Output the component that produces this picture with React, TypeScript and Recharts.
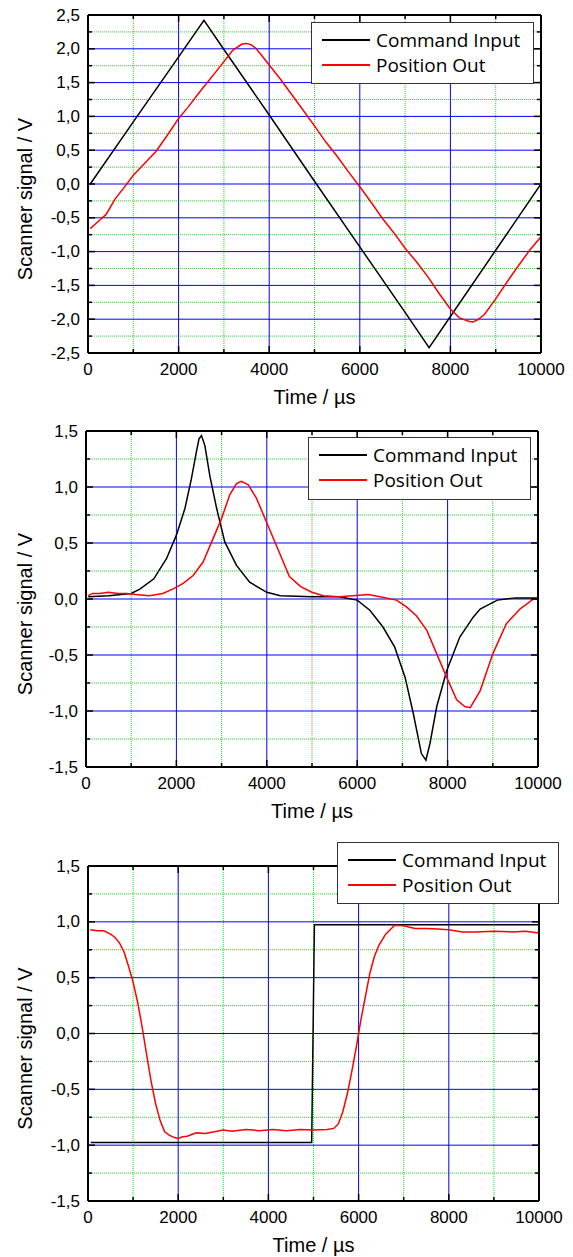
import React from 'react';
import { LineChart, Line, XAxis, YAxis, CartesianGrid, Legend } from 'recharts';

// time axis (µs)
const timeTicks = [0, 1000, 2000, 3000, 4000, 5000, 6000, 7000, 8000, 9000, 10000];
const timeMajor = [2000, 4000, 6000, 8000];
const timeMinor = [1000, 3000, 5000, 7000, 9000];

// voltage axes
const ticks25 = [-2.5, -2.25, -2, -1.75, -1.5, -1.25, -1, -0.75, -0.5, -0.25, 0, 0.25, 0.5, 0.75, 1, 1.25, 1.5, 1.75, 2, 2.25, 2.5];
const major25 = [-2, -1.5, -1, -0.5, 0, 0.5, 1, 1.5, 2];
const minor25 = [-2.25, -1.75, -1.25, -0.75, -0.25, 0.25, 0.75, 1.25, 1.75, 2.25];
const ticks15 = [-1.5, -1.25, -1, -0.75, -0.5, -0.25, 0, 0.25, 0.5, 0.75, 1, 1.25, 1.5];
const major15 = [-1, -0.5, 0, 0.5, 1];
const minor15 = [-1.25, -0.75, -0.25, 0.25, 0.75, 1.25];

// chart 1 - triangle
const cmd1T = [50, 1000, 2000, 2560, 3000, 4000, 5000, 6000, 7000, 7530, 8000, 9000, 10000];
const cmd1V = [0, 0.92, 1.88, 2.42, 1.99, 1.02, 0.04, -0.93, -1.9, -2.42, -1.96, -0.98, 0];
const pos1T = [50, 150, 250, 400, 600, 800, 1000, 1200, 1500, 1800, 2000, 2200, 2500, 2800, 3000, 3200, 3400, 3500, 3600, 3700, 3800, 4000, 4250, 4500, 4750, 5000, 5250, 5500, 5750, 6000, 6250, 6500, 6750, 7000, 7250, 7500, 7750, 8000, 8200, 8400, 8500, 8600, 8750, 9000, 9250, 9500, 9750, 10000];
const pos1V = [-0.66, -0.6, -0.54, -0.45, -0.22, -0.05, 0.13, 0.27, 0.48, 0.77, 0.97, 1.13, 1.39, 1.64, 1.81, 1.98, 2.07, 2.08, 2.06, 2.01, 1.93, 1.76, 1.55, 1.32, 1.09, 0.86, 0.62, 0.41, 0.18, -0.04, -0.27, -0.51, -0.72, -0.95, -1.15, -1.37, -1.62, -1.85, -1.98, -2.03, -2.04, -2.01, -1.93, -1.7, -1.45, -1.21, -0.98, -0.78];

// chart 2 - peaks
const cmd2T = [50, 500, 1000, 1200, 1500, 1780, 2000, 2190, 2330, 2440, 2500, 2555, 2630, 2740, 2890, 3070, 3330, 3620, 4000, 4300, 5000, 5600, 6000, 6280, 6570, 6830, 7060, 7240, 7420, 7520, 7610, 7760, 7980, 8270, 8570, 8720, 9100, 9500, 10000];
const cmd2V = [0.02, 0.03, 0.05, 0.09, 0.18, 0.36, 0.57, 0.81, 1.07, 1.31, 1.43, 1.46, 1.37, 1.1, 0.81, 0.51, 0.3, 0.15, 0.06, 0.03, 0.02, 0.02, -0.01, -0.1, -0.25, -0.43, -0.7, -1.02, -1.38, -1.44, -1.29, -0.96, -0.64, -0.34, -0.16, -0.09, -0.01, 0.01, 0.01];
const pos2T = [50, 150, 300, 500, 700, 900, 1100, 1400, 1700, 1930, 2150, 2370, 2590, 2780, 3000, 3180, 3330, 3440, 3590, 3770, 3990, 4210, 4500, 4750, 5000, 5250, 5600, 5900, 6250, 6500, 6870, 7090, 7310, 7540, 7760, 7980, 8200, 8380, 8500, 8720, 9000, 9300, 9600, 9900, 10000];
const pos2V = [0.03, 0.05, 0.05, 0.06, 0.05, 0.05, 0.04, 0.03, 0.05, 0.09, 0.14, 0.21, 0.33, 0.51, 0.72, 0.93, 1.03, 1.05, 1.02, 0.9, 0.69, 0.48, 0.2, 0.11, 0.06, 0.03, 0.02, 0.03, 0.04, 0.02, -0.01, -0.07, -0.15, -0.28, -0.49, -0.7, -0.9, -0.96, -0.97, -0.82, -0.49, -0.22, -0.09, 0.0, 0.0];

// chart 3 - step
const cmd3T = [60, 4960, 5020, 10000];
const cmd3V = [-0.975, -0.975, 0.975, 0.975];
const pos3T = [50, 200, 350, 500, 600, 700, 800, 900, 1000, 1100, 1200, 1300, 1400, 1500, 1600, 1700, 1800, 1900, 2000, 2100, 2200, 2400, 2600, 2800, 3000, 3200, 3500, 3800, 4100, 4400, 4700, 5000, 5300, 5450, 5550, 5650, 5750, 5850, 5950, 6050, 6150, 6250, 6350, 6450, 6600, 6800, 7000, 7250, 7500, 7750, 8000, 8300, 8600, 9000, 9400, 9700, 10000];
const pos3V = [0.93, 0.92, 0.92, 0.89, 0.86, 0.81, 0.73, 0.6, 0.46, 0.28, 0.06, -0.19, -0.43, -0.63, -0.78, -0.88, -0.91, -0.93, -0.94, -0.925, -0.92, -0.89, -0.895, -0.88, -0.865, -0.875, -0.86, -0.87, -0.86, -0.87, -0.86, -0.865, -0.86, -0.85, -0.81, -0.7, -0.54, -0.34, -0.12, 0.12, 0.33, 0.54, 0.69, 0.79, 0.89, 0.97, 0.965, 0.94, 0.94, 0.935, 0.93, 0.91, 0.91, 0.915, 0.91, 0.915, 0.9];

const pts = (ts: number[], vs: number[]) => ts.map((t, i) => ({ t, v: vs[i] }));

const TICK_FONT = { fontFamily: '"Liberation Sans", Arial, sans-serif', fontSize: 17, fill: '#000' };
const TITLE_FONT = { fontFamily: '"Liberation Sans", Arial, sans-serif', fontSize: 20, fill: '#000' };

const isMajorX = (v: number) => v % 2000 === 0;
const isMajorY = (v: number) => Math.abs(v * 2 - Math.round(v * 2)) < 1e-6;
const fmtY = (v: number) => v.toFixed(1).replace('.', ',');

// axes are 1px thick boxes; x/y passed here sit on the plot edge
const axisTick = (side: 'bottom' | 'top' | 'left' | 'right') => (props: any) => {
  const { x, y, payload } = props;
  const v = payload.value as number;
  const horiz = side === 'bottom' || side === 'top';
  const major = horiz ? isMajorX(v) : isMajorY(v);
  const len = major ? 7 : 4;
  let line;
  if (side === 'bottom') line = <line x1={x} x2={x} y1={y} y2={y - len} />;
  else if (side === 'top') line = <line x1={x} x2={x} y1={y} y2={y + len} />;
  else if (side === 'left') line = <line x1={x} x2={x + len} y1={y} y2={y} />;
  else line = <line x1={x} x2={x - len} y1={y} y2={y} />;
  return (
    <g stroke="#000" strokeWidth={1.5}>
      {line}
      {major && side === 'bottom' && (
        <text x={x} y={y + 16} textAnchor="middle" dominantBaseline="central" stroke="none" style={TICK_FONT}>{v}</text>
      )}
      {major && side === 'left' && (
        <text x={x - 8} y={y} textAnchor="end" dominantBaseline="central" stroke="none" style={TICK_FONT}>{fmtY(v)}</text>
      )}
    </g>
  );
};

const xTitle = (props: any) => {
  const vb = props.viewBox;
  return (
    <text x={vb.x + vb.width / 2} y={vb.y + 44} textAnchor="middle" dominantBaseline="central" style={TITLE_FONT}>Time / µs</text>
  );
};

const yTitle = (props: any) => {
  const vb = props.viewBox;
  const cy = vb.y + vb.height / 2 + 15;
  return (
    <text x={25} y={cy} transform={`rotate(-90, 25, ${cy})`} textAnchor="middle" dominantBaseline="central" style={TITLE_FONT}>Scanner signal / V</text>
  );
};

const legendBox = (w: number, h: number) => (props: any) => (
  <div style={{ position: 'relative', width: w, height: h, boxSizing: 'border-box', border: '1.5px solid #333', background: '#fff', fontFamily: '"Open Sans", "Noto Sans", sans-serif', fontSize: 19, color: '#000' }}>
    {(props.payload || []).map((e: any, i: number) => (
      <div key={e.value} style={{ position: 'absolute', left: 10, top: 17 + 25 * i - 13, height: 26, display: 'flex', alignItems: 'center', whiteSpace: 'nowrap' }}>
        <div style={{ width: 48, height: 0, borderTop: `2px solid ${e.color}`, marginRight: 6 }} />
        <span>{e.value}</span>
      </div>
    ))}
  </div>
);

type ChartProps = {
  top: number;
  height: number;
  margin: { top: number; right: number; bottom: number; left: number };
  yDomain: [number, number];
  yTicks: number[];
  yMajor: number[];
  yMinor: number[];
  cmd: { t: number; v: number }[];
  pos: { t: number; v: number }[];
  legend: { left: number; top: number; w: number; h: number };
};

const AXIS_LINE = { stroke: '#000', strokeWidth: 2 };

const ScopeChart = ({ top, height, margin, yDomain, yTicks, yMajor, yMinor, cmd, pos, legend }: ChartProps) => (
  <div style={{ position: 'absolute', left: 0, top }}>
    <LineChart width={573} height={height} margin={margin}>
      <CartesianGrid xAxisId="b" yAxisId="l" horizontalValues={yMinor} verticalValues={timeMinor} stroke="#22dd22" strokeDasharray="1 1" strokeWidth={1} />
      <CartesianGrid xAxisId="b" yAxisId="l" horizontalValues={yMajor} verticalValues={timeMajor} stroke="#0000ff" strokeWidth={1} />
      <Line xAxisId="b" yAxisId="l" data={cmd} dataKey="v" name="Command Input" type="linear" stroke="#000000" strokeWidth={1.5} dot={false} activeDot={false} isAnimationActive={false} />
      <Line xAxisId="b" yAxisId="l" data={pos} dataKey="v" name="Position Out" type="linear" stroke="#ff0000" strokeWidth={1.5} dot={false} activeDot={false} isAnimationActive={false} />
      <XAxis xAxisId="b" dataKey="t" type="number" domain={[0, 10000]} allowDataOverflow ticks={timeTicks} interval={0}
        orientation="bottom" height={1} tickSize={0} tickMargin={0} tickLine={false} axisLine={AXIS_LINE}
        tick={axisTick('bottom')} label={xTitle} />
      <XAxis xAxisId="t" dataKey="t" type="number" domain={[0, 10000]} allowDataOverflow ticks={timeTicks} interval={0}
        orientation="top" height={1} tickSize={0} tickMargin={0} tickLine={false} axisLine={AXIS_LINE}
        tick={axisTick('top')} />
      <YAxis yAxisId="l" type="number" domain={yDomain} allowDataOverflow ticks={yTicks} interval={0}
        orientation="left" width={1} tickSize={0} tickMargin={0} tickLine={false} axisLine={AXIS_LINE}
        tick={axisTick('left')} label={yTitle} />
      <YAxis yAxisId="r" type="number" domain={yDomain} allowDataOverflow ticks={yTicks} interval={0}
        orientation="right" width={1} tickSize={0} tickMargin={0} tickLine={false} axisLine={AXIS_LINE}
        tick={axisTick('right')} />
      <Legend layout="vertical" align="center" verticalAlign="middle"
        wrapperStyle={{ left: legend.left, top: legend.top, width: legend.w, height: legend.h, right: 'auto', bottom: 'auto' }}
        content={legendBox(legend.w, legend.h)} />
    </LineChart>
  </div>
);

export default function App() {
  return (
    <div style={{ position: 'absolute', left: 0, top: 0, width: 573, height: 1257, background: '#fff' }}>
      <ScopeChart top={0} height={410} margin={{ top: 14, right: 31, bottom: 56, left: 87 }}
        yDomain={[-2.5, 2.5]} yTicks={ticks25} yMajor={major25} yMinor={minor25}
        cmd={pts(cmd1T, cmd1V)} pos={pts(pos1T, pos1V)} legend={{ left: 311, top: 22, w: 223, h: 62 }} />
      <ScopeChart top={410} height={420} margin={{ top: 20, right: 34, bottom: 62, left: 85 }}
        yDomain={[-1.5, 1.5]} yTicks={ticks15} yMajor={major15} yMinor={minor15}
        cmd={pts(cmd2T, cmd2V)} pos={pts(pos2T, pos2V)} legend={{ left: 308, top: 27, w: 223, h: 63 }} />
      <ScopeChart top={830} height={427} margin={{ top: 35, right: 33, bottom: 55, left: 87 }}
        yDomain={[-1.5, 1.5]} yTicks={ticks15} yMajor={major15} yMinor={minor15}
        cmd={pts(cmd3T, cmd3V)} pos={pts(pos3T, pos3V)} legend={{ left: 337, top: 12, w: 222, h: 62 }} />
    </div>
  );
}
